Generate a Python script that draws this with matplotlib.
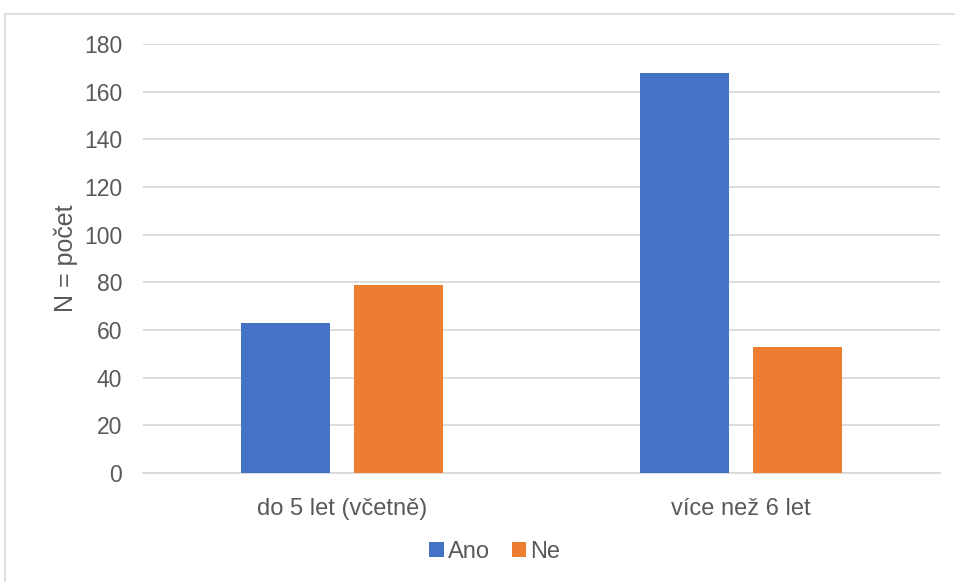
import matplotlib.pyplot as plt
from matplotlib.patches import Rectangle
import numpy as np

categories = ["do 5 let (včetně)", "více než 6 let"]
ano = [63, 168]
ne = [79, 53]
yticks = [0, 20, 40, 60, 80, 100, 120, 140, 160, 180]

plt.rcParams['font.family'] = ['Liberation Sans', 'DejaVu Sans']

W, H = 955, 582
fig = plt.figure(figsize=(W / 100, H / 100), dpi=100)
ax = fig.add_axes([143 / W, 1 - 473 / H, (940 - 143) / W, (473 - 44) / H])

# outer chart border (only top/left visible)
fig.patches.append(Rectangle((5 / W, -0.1), 1.2, 1 - 14 / H + 0.1, transform=fig.transFigure,
                             fill=False, edgecolor="#d9d9d9", linewidth=1.2))

x = np.arange(len(categories))
w = 0.223
ax.bar(x - 0.142, ano, w, color="#4472c4", label="Ano", zorder=3)
ax.bar(x + 0.142, ne, w, color="#ed7d31", label="Ne", zorder=3)

ax.set_xlim(-0.5, 1.5)
ax.set_ylim(0, 180)
ax.set_yticks(yticks)
ax.set_xticks(x)
ax.set_xticklabels(categories)
ax.grid(axis="y", color="#d9d9d9", linewidth=1.3, zorder=0)
for s in ["top", "right", "left"]:
    ax.spines[s].set_visible(False)
ax.spines["bottom"].set_color("#d9d9d9")
ax.spines["bottom"].set_linewidth(1.3)
ax.tick_params(axis="both", length=0, colors="#595959")
ax.tick_params(axis="y", pad=15, labelsize=16.5)
ax.tick_params(axis="x", pad=18, labelsize=17)
ax.set_ylabel("N = počet", fontsize=18, color="#595959", labelpad=4)

leg = fig.legend(loc="center", bbox_to_anchor=(495 / W, 1 - 552 / H), ncol=2, frameon=False,
                 fontsize=17, handlelength=0.6, handleheight=0.6, handletextpad=0.2,
                 columnspacing=0.9)
for t in leg.get_texts():
    t.set_color("#595959")

fig.savefig("out.png", dpi=100)
